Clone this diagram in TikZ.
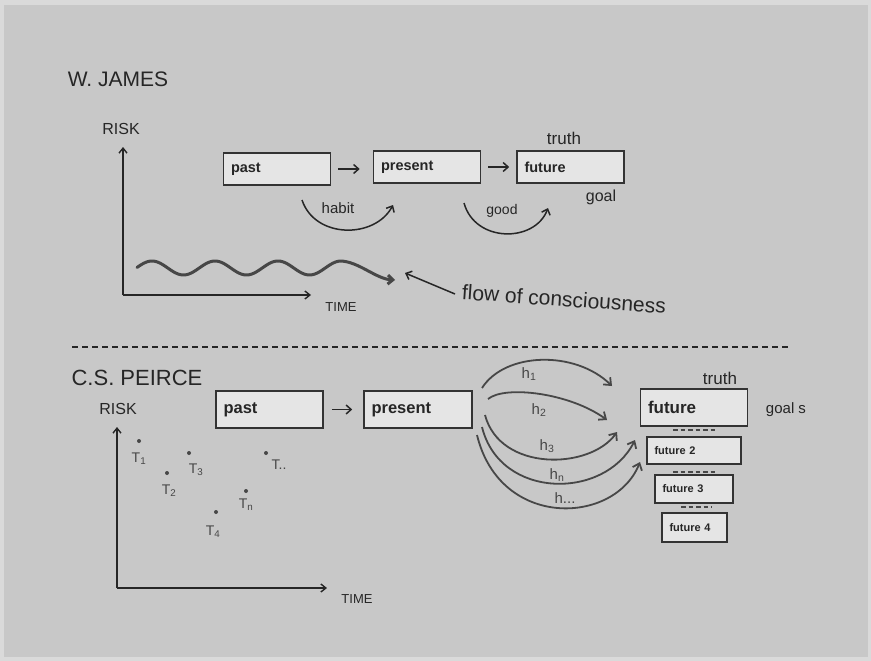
\documentclass[tikz,border=0pt]{standalone}
\usepackage{fontspec}
\setmainfont{Liberation Sans}
\usetikzlibrary{arrows.meta}
\definecolor{bgc}{HTML}{C8C8C8}
\definecolor{edgec}{HTML}{DADADA}
\definecolor{ink}{HTML}{262626}
\definecolor{inkl}{HTML}{474747}
\definecolor{boxfill}{HTML}{E5E5E5}
\definecolor{boxline}{HTML}{333333}
\begin{document}
\begin{tikzpicture}[x=1pt,y=-1pt,
  hand/.style={text=ink, inner sep=0pt, font=\fontsize{#1}{#1}\selectfont},
  boxlbl/.style={draw=boxline, fill=boxfill, line width=1.6pt, inner xsep=7.5pt, inner ysep=0pt,
     align=left, text=ink, font=\bfseries\fontsize{#1}{#1}\selectfont},
  harrow/.style={draw=ink, line width=1.5pt, -{Straight Barb[length=5pt,width=9pt]}},
  curvarrow/.style={draw=inkl, line width=1.8pt, -{Straight Barb[length=6pt,width=10pt]}},
  axis/.style={draw=ink, line width=1.4pt, -{Straight Barb[length=5pt,width=8pt]}},
  dotp/.style={circle, fill=inkl, inner sep=0pt, minimum size=4pt},
  tlab/.style={text=inkl, inner sep=0pt, font=\fontsize{14}{14}\selectfont}
]
\useasboundingbox (0,0) rectangle (871,661);
\fill[edgec] (0,0) rectangle (871,661);
\fill[bgc] (4,5) rectangle (868,657);

% ---------------- W. JAMES ----------------
\node[hand=21] (wj) at (118,79) {W. JAMES};
\node[hand=16] (risk1) at (121,129) {RISK};
\coordinate (o1) at (123,295);
\coordinate (y1) at (123,147);
\coordinate (x1) at (311,295);
\draw[axis] (o1) -- (y1);
\draw[axis] (o1) -- (x1);
\node[hand=13] (time1) at (341,307) {TIME};

% wave
\coordinate (waveend) at (395,280);
\draw[draw=inkl, line width=3pt, line cap=round, line join=round, -{Straight Barb[length=5pt,width=9pt]}]
  plot[domain=137:340, samples=90] (\x,{268-7*cos(5.7143*(\x-152))})
  .. controls (358,261) and (376,279) .. (waveend);

\node[hand=21, rotate=-4] (flow) at (564,299) {flow of consciousness};
\coordinate (flowstart) at (455,294);
\coordinate (flowend) at (405,273);
\draw[harrow] (flowstart) -- (flowend);

% boxes top
\node[boxlbl=14.5, text width=92pt, minimum height=32pt] (past1) at (277,169) {past};
\node[boxlbl=14.5, text width=92pt, minimum height=32pt] (present1) at (427,167) {present};
\node[boxlbl=14.5, text width=92pt, minimum height=32pt] (future1) at (570.5,167) {future};
\draw[harrow, shorten <=7pt, shorten >=13pt] (past1.east) -- (present1.west |- past1.east);
\draw[harrow, shorten <=7pt, shorten >=7pt] (present1.east) -- (future1.west);

\node[hand=17] (truth1) at (564,138) {truth};
\node[hand=16] (goal1) at (601,197) {goal};

\coordinate (hab1) at (302,200);
\coordinate (hab2) at (393,205);
\draw[harrow] (hab1) .. controls (315,239) and (375,239) .. (hab2);
\node[hand=15] (habit) at (338,208) {habit};
\coordinate (good1) at (464,203);
\coordinate (good2) at (548,208);
\draw[harrow] (good1) .. controls (475,243) and (535,243) .. (good2);
\node[hand=14] (good) at (502,211) {good};

% separator
\coordinate (sepL) at (72,347);
\coordinate (sepR) at (790,347);
\draw[draw=ink, line width=1.3pt, dash pattern=on 6pt off 4pt] (sepL) -- (sepR);

% ---------------- C.S. PEIRCE ----------------
\node[hand=22] (csp) at (137,378) {C.S. PEIRCE};
\node[hand=16] (risk2) at (118,409) {RISK};
\coordinate (o2) at (117,588);
\coordinate (y2) at (117,427);
\coordinate (x2) at (327,588);
\draw[axis] (o2) -- (y2);
\draw[axis] (o2) -- (x2);
\node[hand=13] (time2) at (357,599) {TIME};

\node[dotp] (d1) at (139,441) {};
\node[tlab] (t1) at (139,459) {T\textsubscript{1}};
\node[dotp] (d2) at (167,473) {};
\node[tlab] (t2) at (169,491) {T\textsubscript{2}};
\node[dotp] (d3) at (189,453) {};
\node[tlab] (t3) at (196,470) {T\textsubscript{3}};
\node[dotp] (d4) at (216,512) {};
\node[tlab] (t4) at (213,532) {T\textsubscript{4}};
\node[dotp] (dn) at (246,491) {};
\node[tlab] (tn) at (246,505) {T\textsubscript{n}};
\node[dotp] (dd) at (266,453) {};
\node[tlab] (td) at (279,465) {T..};

% boxes bottom
\node[boxlbl=16.5, text width=92pt, minimum height=37pt] (past2) at (269.5,409.5) {past};
\node[boxlbl=16.5, text width=93pt, minimum height=37pt] (present2) at (418,409.5) {present};
\draw[harrow, shorten <=8pt, shorten >=11pt] (past2.east) -- (present2.west);

\node[boxlbl=17, text width=92pt, minimum height=37pt] (fut) at (694,407.5) {future};
\node[boxlbl=11, text width=79pt, minimum height=27pt] (fut2) at (694,450.5) {future 2};
\node[boxlbl=11, text width=63pt, minimum height=28pt] (fut3) at (694,489) {future 3};
\node[boxlbl=11, text width=50pt, minimum height=29pt] (fut4) at (694.5,527.5) {future 4};
\draw[draw=inkl, line width=1.6pt, dash pattern=on 4.5pt off 3pt] (673,430) -- (718,430);
\draw[draw=inkl, line width=1.6pt, dash pattern=on 4.5pt off 3pt] (673,472) -- (718,472);
\draw[draw=inkl, line width=1.6pt, dash pattern=on 4.5pt off 3pt] (681,507) -- (712,507);

\node[hand=17] (truth2) at (720,378) {truth};
\node[hand=15] (goal2) at (786,410) {goal s};

% hypotheses
\coordinate (h1s) at (482,388);
\coordinate (h1e) at (612,386);
\coordinate (h2s) at (488,399);
\coordinate (h2e) at (607,420);
\coordinate (h3s) at (485,415);
\coordinate (h3e) at (617,432);
\coordinate (hns) at (482,427);
\coordinate (hne) at (635,440);
\coordinate (hds) at (477,435);
\coordinate (hde) at (640,462);
\draw[curvarrow] (h1s) .. controls (505,352) and (575,350) .. (h1e);
\draw[curvarrow] (h2s) .. controls (505,385) and (570,393) .. (h2e);
\draw[curvarrow] (h3s) .. controls (500,472) and (590,470) .. (h3e);
\draw[curvarrow] (hns) .. controls (500,500) and (605,500) .. (hne);
\draw[curvarrow] (hds) .. controls (500,530) and (615,525) .. (hde);
\node[hand=15, text=inkl] (lh1) at (529,374) {h\textsubscript{1}};
\node[hand=15, text=inkl] (lh2) at (539,410) {h\textsubscript{2}};
\node[hand=15, text=inkl] (lh3) at (547,446) {h\textsubscript{3}};
\node[hand=15, text=inkl] (lhn) at (557,475) {h\textsubscript{n}};
\node[hand=15, text=inkl] (lhd) at (565,498) {h...};
\end{tikzpicture}
\end{document}
